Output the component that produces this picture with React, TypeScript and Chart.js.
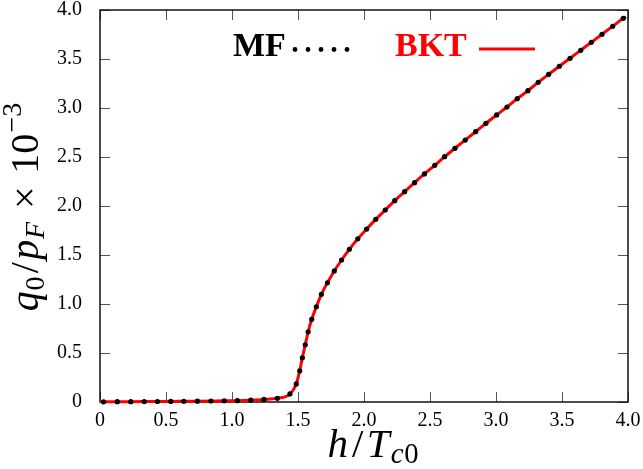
import React, { useEffect, useRef } from 'react';
import { Chart, registerables } from 'chart.js';

Chart.register(...registerables);

// MF (mean-field) dots
const mfX = [
  0.027, 0.131, 0.233, 0.335, 0.435, 0.536, 0.635, 0.738, 0.84, 0.941,
  1.041, 1.142, 1.242, 1.344, 1.439, 1.487, 1.513, 1.533, 1.555, 1.577,
  1.604, 1.639, 1.677, 1.723, 1.775, 1.83, 1.889, 1.953, 2.02, 2.089,
  2.161, 2.233, 2.308, 2.383, 2.458, 2.536, 2.611, 2.689, 2.767, 2.846,
  2.924, 3.005, 3.083, 3.161, 3.242, 3.32, 3.399, 3.48, 3.561, 3.642,
  3.722, 3.803, 3.884, 3.964,
];
const mfY = [
  0.002, 0.003, 0.003, 0.004, 0.005, 0.006, 0.007, 0.008, 0.01, 0.012,
  0.014, 0.019, 0.026, 0.038, 0.082, 0.184, 0.318, 0.451, 0.584, 0.716,
  0.844, 0.972, 1.099, 1.217, 1.337, 1.449, 1.558, 1.665, 1.765, 1.864,
  1.959, 2.054, 2.146, 2.238, 2.327, 2.415, 2.503, 2.589, 2.673, 2.758,
  2.844, 2.929, 3.01, 3.095, 3.177, 3.262, 3.344, 3.426, 3.507, 3.589,
  3.67, 3.752, 3.834, 3.915,
];

// BKT curve
const bktX = [
  0.0, 0.131, 0.335, 0.536, 0.738, 0.941, 1.041, 1.142, 1.242, 1.344,
  1.439, 1.487, 1.513, 1.533, 1.555, 1.577, 1.604, 1.639, 1.677, 1.723,
  1.775, 1.83, 1.889, 1.953, 2.02, 2.089, 2.161, 2.233, 2.308, 2.383,
  2.458, 2.536, 2.611, 2.689, 2.767, 2.846, 2.924, 3.005, 3.083, 3.161,
  3.242, 3.32, 3.399, 3.48, 3.561, 3.642, 3.722, 3.803, 3.884, 3.964, 3.985,
];
const bktY = [
  0.002, 0.003, 0.004, 0.006, 0.008, 0.012, 0.014, 0.019, 0.026, 0.038,
  0.082, 0.184, 0.318, 0.451, 0.584, 0.716, 0.844, 0.972, 1.099, 1.217,
  1.337, 1.449, 1.558, 1.665, 1.765, 1.864, 1.959, 2.054, 2.146, 2.238,
  2.327, 2.415, 2.503, 2.589, 2.673, 2.758, 2.844, 2.929, 3.01, 3.095,
  3.177, 3.262, 3.344, 3.426, 3.507, 3.589, 3.67, 3.752, 3.834, 3.915, 3.932,
];

const xTicks = [0, 0.5, 1.0, 1.5, 2.0, 2.5, 3.0, 3.5, 4.0];
const yTicks = [0, 0.5, 1.0, 1.5, 2.0, 2.5, 3.0, 3.5, 4.0];
const seriesNames = ['MF', 'BKT'];

const SERIF = '"Liberation Serif", "DejaVu Serif", serif';

type Piece = { t: string; it?: boolean; sc?: number; sh?: number; gap?: number };

function drawMath(ctx: CanvasRenderingContext2D, pieces: Piece[], size: number, cx: number, baseY: number) {
  const widths = pieces.map((p) => {
    ctx.font = `${p.it ? 'italic ' : ''}${size * (p.sc ?? 1)}px ${SERIF}`;
    return ctx.measureText(p.t).width;
  });
  const total = pieces.reduce((s, p, i) => s + widths[i] + (p.gap ?? 0) * size, 0);
  let x = cx - total / 2;
  ctx.textBaseline = 'alphabetic';
  ctx.textAlign = 'left';
  pieces.forEach((p, i) => {
    x += (p.gap ?? 0) * size;
    ctx.font = `${p.it ? 'italic ' : ''}${size * (p.sc ?? 1)}px ${SERIF}`;
    ctx.fillText(p.t, x, baseY - (p.sh ?? 0) * size);
    x += widths[i];
  });
}

const decorPlugin = {
  id: 'decor',
  beforeDatasetsDraw(chart: any) {
    const { ctx, chartArea: a, scales } = chart;
    ctx.save();
    ctx.strokeStyle = '#555';
    ctx.lineWidth = 1;
    const tl = 10;
    ctx.beginPath();
    xTicks.forEach((v) => {
      const px = Math.round(scales.x.getPixelForValue(v)) + 0.5;
      ctx.moveTo(px, a.bottom);
      ctx.lineTo(px, a.bottom - tl);
      ctx.moveTo(px, a.top);
      ctx.lineTo(px, a.top + tl);
    });
    yTicks.forEach((v) => {
      const py = Math.round(scales.y.getPixelForValue(v)) + 0.5;
      ctx.moveTo(a.left, py);
      ctx.lineTo(a.left + tl, py);
      ctx.moveTo(a.right, py);
      ctx.lineTo(a.right - tl, py);
    });
    ctx.stroke();
    ctx.strokeStyle = '#111';
    ctx.lineWidth = 1.5;
    ctx.strokeRect(a.left, a.top, a.right - a.left, a.bottom - a.top);
    ctx.restore();
  },
  afterDraw(chart: any) {
    const { ctx } = chart;
    ctx.save();
    ctx.fillStyle = '#000';
    // x title
    drawMath(
      ctx,
      [
        { t: 'h', it: true },
        { t: '/', gap: 0.1 },
        { t: 'T', it: true, gap: 0.08 },
        { t: 'c', it: true, sc: 0.7, sh: -0.14, gap: 0.03 },
        { t: '0', sc: 0.7, sh: -0.14, gap: 0.02 },
      ],
      41,
      373,
      457
    );
    // y title
    ctx.save();
    ctx.translate(38, 207);
    ctx.rotate(-Math.PI / 2);
    drawMath(
      ctx,
      [
        { t: 'q', it: true },
        { t: '0', sc: 0.7, sh: -0.14, gap: 0.02 },
        { t: '/', gap: 0.08 },
        { t: 'p', it: true, gap: 0.06 },
        { t: 'F', it: true, sc: 0.7, sh: -0.14, gap: 0.02 },
        { t: '×', gap: 0.32 },
        { t: '10', gap: 0.32 },
        { t: '−3', sc: 0.7, sh: 0.42, gap: 0.03 },
      ],
      40,
      0,
      0
    );
    ctx.restore();
    // legend
    ctx.textBaseline = 'alphabetic';
    ctx.textAlign = 'left';
    ctx.font = `bold 34px ${SERIF}`;
    ctx.fillStyle = '#000';
    ctx.fillText(seriesNames[0], 233, 56);
    for (let i = 0; i < 5; i++) {
      ctx.beginPath();
      ctx.arc(295 + i * 13, 49.5, 2.4, 0, Math.PI * 2);
      ctx.fill();
    }
    ctx.fillStyle = '#ff0000';
    ctx.fillText(seriesNames[1], 395, 56);
    ctx.strokeStyle = '#ff0000';
    ctx.lineWidth = 3;
    ctx.beginPath();
    ctx.moveTo(479, 49);
    ctx.lineTo(535, 49);
    ctx.stroke();
    ctx.restore();
  },
};

export default function App() {
  const ref = useRef<HTMLCanvasElement | null>(null);
  useEffect(() => {
    document.body.style.margin = '0';
    const canvas = ref.current;
    if (!canvas) return;
    const tickFmt = (v: any) => (Number(v) === 0 ? '0' : Number(v).toFixed(1));
    const chart = new Chart(canvas, {
      type: 'scatter',
      data: {
        datasets: [
          {
            label: seriesNames[0],
            data: mfX.map((x, i) => ({ x, y: mfY[i] })),
            showLine: false,
            pointRadius: 2.6,
            pointBackgroundColor: '#000',
            pointBorderWidth: 0,
            clip: false,
            order: 0,
          } as any,
          {
            label: seriesNames[1],
            data: bktX.map((x, i) => ({ x, y: bktY[i] })),
            showLine: true,
            borderColor: '#ff0000',
            borderWidth: 3,
            pointRadius: 0,
            cubicInterpolationMode: 'monotone',
            clip: false,
            order: 1,
          } as any,
        ],
      },
      options: {
        animation: false,
        responsive: false,
        events: [],
        layout: { padding: { top: 10, right: 15, left: 0, bottom: 0 } },
        plugins: { legend: { display: false }, tooltip: { enabled: false } },
        scales: {
          x: {
            type: 'linear',
            min: 0,
            max: 4,
            afterBuildTicks: (s: any) => {
              s.ticks = xTicks.map((v) => ({ value: v }));
            },
            afterFit: (s: any) => {
              s.height = 67;
              s.paddingLeft = 0;
              s.paddingRight = 0;
            },
            grid: { display: false, drawTicks: false },
            border: { display: false },
            ticks: {
              callback: tickFmt,
              font: { family: SERIF, size: 20 },
              color: '#000',
              padding: 7,
              maxRotation: 0,
            },
          },
          y: {
            type: 'linear',
            min: 0,
            max: 4,
            afterBuildTicks: (s: any) => {
              s.ticks = yTicks.map((v) => ({ value: v }));
            },
            afterFit: (s: any) => {
              s.width = 100;
              s.paddingTop = 0;
              s.paddingBottom = 0;
            },
            grid: { display: false, drawTicks: false },
            border: { display: false },
            ticks: {
              callback: tickFmt,
              font: { family: SERIF, size: 20 },
              color: '#000',
              padding: 18,
            },
          },
        },
      },
      plugins: [decorPlugin],
    });
    return () => chart.destroy();
  }, []);
  return (
    <div style={{ width: 643, height: 469 }}>
      <canvas ref={ref} width={643} height={469} style={{ display: 'block' }} />
    </div>
  );
}
